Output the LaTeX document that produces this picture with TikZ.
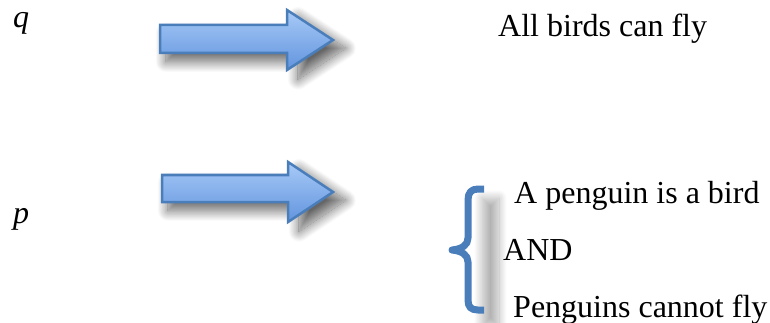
\documentclass[tikz,border=0pt]{standalone}
\usepackage{fontspec}
\setmainfont{Liberation Serif}
\usepackage{xcolor}
\usetikzlibrary{shadows.blur}

\definecolor{arrowline}{RGB}{74,126,187}
\definecolor{arrowtop}{RGB}{168,202,247}
\definecolor{arrowbot}{RGB}{98,148,222}

\tikzset{
  txt/.style={anchor=base west,inner sep=0pt,font=\fontsize{32}{38}\selectfont},
  bigarrow/.style={draw=arrowline,line width=2.5pt,line join=miter,
    top color=arrowtop,bottom color=arrowbot,
    blur shadow={shadow xshift=9pt,shadow yshift=-8pt,shadow blur radius=10pt,
      shadow blur steps=25,shadow opacity=60,shadow scale=1.04}},
  brace/.style={draw=arrowline,line width=7pt,line join=round}
}

\begin{document}
\begin{tikzpicture}[x=1pt,y=-1pt]
\useasboundingbox (0,0) rectangle (770,323);

\node (q) at (13,28) [txt] {\textit{q}};
\node (p) at (13,223) [txt] {\textit{p}};

\node (fly) at (498,37) [txt] {All birds can fly};
\node (bird) at (514,203) [txt] {A penguin is a bird};
\node (and) at (503,260) [txt] {AND};
\node (nofly) at (513,317) [txt] {Penguins cannot fly};

% arrows
\path[bigarrow] (160,25) -- (287,25) -- (287,10) -- (333,40) -- (287,70) -- (287,53) -- (160,53) -- cycle;
\path[bigarrow] (162,175) -- (288,175) -- (288,162) -- (333,192) -- (288,222) -- (288,202) -- (162,202) -- cycle;

% brace with its shadow
\path[blur shadow={shadow xshift=0pt,shadow yshift=0pt,shadow blur radius=8pt,
  shadow blur steps=25,shadow opacity=30}] (482,198) rectangle (499,326);
\draw[brace] (484,189) -- (478,189) .. controls (471,189) and (468,193) .. (468,200) -- (468,238)
  .. controls (468,245) and (462,249) .. (452,250)
  .. controls (462,251) and (468,255) .. (468,262) -- (468,300)
  .. controls (468,307) and (471,310) .. (478,310) -- (484,310);
\end{tikzpicture}
\end{document}
